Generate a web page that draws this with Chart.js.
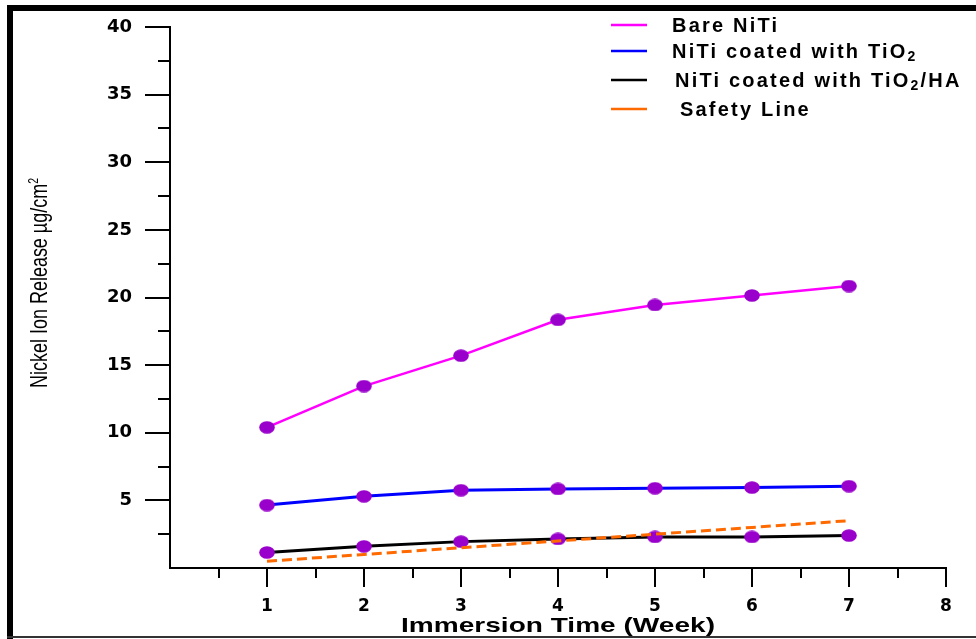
<!DOCTYPE html>
<html><head><meta charset="utf-8">
<script src="https://cdn.jsdelivr.net/npm/chart.js@4.4.0/dist/chart.umd.min.js"></script>
<style>html,body{margin:0;padding:0;background:#fff;}#wrap{width:976px;height:639px;}</style>
</head><body><div id="wrap"><canvas id="c" width="976" height="639"></canvas></div>
<script>
// ---- data ----
const weeks = [1, 2, 3, 4, 5, 6, 7];
const bareNiTi = [10.4, 13.45, 15.7, 18.35, 19.45, 20.15, 20.85];
const coatedTiO2 = [4.65, 5.3, 5.75, 5.85, 5.9, 5.95, 6.05];
const coatedTiO2HA = [1.15, 1.6, 1.95, 2.15, 2.3, 2.3, 2.4];
const safetyLine = [0.5, 1.0, 1.5, 2.0, 2.5, 3.0, 3.5];
const seriesLabels = ['Bare NiTi', 'NiTi coated with TiO₂', 'NiTi coated with TiO₂/HA', 'Safety Line'];
const seriesColors = ['#ff00ff', '#0000ff', '#000000', '#ff6a00'];
const yTickLabels = [5, 10, 15, 20, 25, 30, 35, 40];
const xTickLabels = [1, 2, 3, 4, 5, 6, 7, 8];
const xTitle = 'Immersion Time (Week)';
const yTitle = 'Nickel Ion Release µg/cm²';

// point marker: purple ellipse
const marker = document.createElement('canvas');
marker.width = 16; marker.height = 13;
(function(){const m = marker.getContext('2d'); m.fillStyle = '#9a00cc'; m.beginPath(); m.ellipse(8, 6.5, 7.8, 6.3, 0, 0, Math.PI*2); m.fill();})();

function pts(arr){ return weeks.map((w,i)=>({x:w, y:arr[i]})); }

function parts(text){
  const out=[]; let buf='';
  for (const ch of text){
    if (ch==='₂'||ch==='²'){ if(buf) out.push({t:buf,k:'n'}); buf=''; out.push({t:'2',k:ch==='₂'?'sub':'sup'}); }
    else buf+=ch;
  }
  if(buf) out.push({t:buf,k:'n'});
  return out;
}
function richWidth(ctx, text, font, smallFont){
  let w=0;
  for(const p of parts(text)){ ctx.font = p.k==='n'?font:smallFont; w+=ctx.measureText(p.t).width; }
  return w;
}
function drawRich(ctx, text, x, y, font, smallFont, subDy, supDy){
  let cx=x;
  for(const p of parts(text)){
    ctx.font = p.k==='n'?font:smallFont;
    const dy = p.k==='sub'?subDy:(p.k==='sup'?supDy:0);
    ctx.fillText(p.t, cx, y+dy);
    cx += ctx.measureText(p.t).width;
  }
}

const decor = {
  id:'decor',
  afterDraw(chart){
    const ctx = chart.ctx, xs = chart.scales.x, ys = chart.scales.y, ca = chart.chartArea;
    ctx.save();
    // ticks
    ctx.strokeStyle = '#000'; ctx.lineWidth = 2;
    ys.ticks.forEach(t=>{
      if (t.value <= 0) return;
      const py = Math.round(ys.getPixelForValue(t.value));
      const len = (t.value % 5 === 0) ? 25 : 12;
      ctx.beginPath(); ctx.moveTo(ca.left - len, py); ctx.lineTo(ca.left, py); ctx.stroke();
    });
    xs.ticks.forEach(t=>{
      if (t.value <= 0) return;
      const px = Math.round(xs.getPixelForValue(t.value));
      const len = (t.value % 1 === 0) ? 19 : 10;
      ctx.beginPath(); ctx.moveTo(px, ca.bottom); ctx.lineTo(px, ca.bottom + len); ctx.stroke();
    });
    // x title
    ctx.fillStyle = '#000'; ctx.textBaseline = 'alphabetic'; ctx.textAlign = 'left';
    ctx.save();
    const xf = 'bold 21px "Liberation Sans", Arial, sans-serif';
    ctx.font = xf;
    const xw = ctx.measureText(xTitle).width;
    ctx.translate((ca.left + ca.right)/2 - 0, 632);
    ctx.scale(314/xw, 1);
    ctx.fillText(xTitle, -xw/2, 0);
    ctx.restore();
    // y title
    ctx.save();
    const yf = '24px "Liberation Sans", Arial, sans-serif', ysf = '14px "Liberation Sans", Arial, sans-serif';
    const yw = richWidth(ctx, yTitle, yf, ysf);
    ctx.translate(47, 283);
    ctx.rotate(-Math.PI/2);
    ctx.scale(210/yw, 1);
    drawRich(ctx, yTitle, -yw/2, 0, yf, ysf, 0, -9);
    ctx.restore();
    // legend
    ctx.save();
    const lf = 'bold 20px "Liberation Sans", Arial, sans-serif', lsf = 'bold 14px "Liberation Sans", Arial, sans-serif';
    try { ctx.letterSpacing = '2.2px'; } catch(e) {}
    const rowY = [25, 51, 80, 109], textX = [672, 672, 675, 680];
    seriesLabels.forEach((lab, i)=>{
      ctx.strokeStyle = seriesColors[i]; ctx.lineWidth = 2.5; ctx.setLineDash([]);
      ctx.beginPath(); ctx.moveTo(611, rowY[i]); ctx.lineTo(647, rowY[i]); ctx.stroke();
      ctx.fillStyle = '#000'; ctx.textBaseline = 'middle';
      drawRich(ctx, lab, textX[i], rowY[i] + 1, lf, lsf, 5, -6);
    });
    ctx.restore();
    // frame
    ctx.fillStyle = '#000';
    ctx.fillRect(7, 5, 969, 6);
    ctx.fillRect(7, 5, 6, 634);
    ctx.fillStyle = '#333';
    ctx.fillRect(7, 636, 969, 2);
    ctx.restore();
  }
};

const tickFontY = {family:'"DejaVu Sans", sans-serif', size:18, weight:'bold'};
const tickFontX = {family:'"DejaVu Sans", sans-serif', size:17, weight:'bold'};

new Chart(document.getElementById('c'), {
  type:'line',
  data:{
    datasets:[
      {label:seriesLabels[0], data:pts(bareNiTi), borderColor:seriesColors[0], borderWidth:2.5, pointStyle:marker, pointRadius:7, order:2},
      {label:seriesLabels[1], data:pts(coatedTiO2), borderColor:seriesColors[1], borderWidth:3, pointStyle:marker, pointRadius:7, order:3},
      {label:seriesLabels[2], data:pts(coatedTiO2HA), borderColor:seriesColors[2], borderWidth:3, pointStyle:marker, pointRadius:7, order:4},
      {label:seriesLabels[3], data:pts(safetyLine), borderColor:seriesColors[3], borderWidth:3, borderDash:[10,5], pointRadius:0, order:1}
    ]
  },
  options:{
    responsive:false, animation:false, devicePixelRatio:1,
    layout:{padding:{left:0, right:30, top:27, bottom:0}},
    elements:{line:{tension:0, fill:false}},
    plugins:{legend:{display:false}, tooltip:{enabled:false}},
    scales:{
      x:{type:'linear', min:0, max:8,
        afterFit(s){ s.height = 71; },
        ticks:{stepSize:0.5, autoSkip:false, maxRotation:0, padding:9, color:'#000', font:tickFontX,
          callback(v){ return xTickLabels.includes(v) ? String(v) : ''; }},
        grid:{display:true, drawOnChartArea:false, drawTicks:true, tickLength:19, tickColor:'rgba(0,0,0,0)'},
        border:{display:true, color:'#000', width:2}
      },
      y:{type:'linear', min:0, max:40,
        afterFit(s){ s.width = 170; },
        ticks:{stepSize:2.5, autoSkip:false, padding:13, color:'#000', font:tickFontY,
          callback(v){ return yTickLabels.includes(v) ? String(v) : ''; }},
        grid:{display:true, drawOnChartArea:false, drawTicks:true, tickLength:25, tickColor:'rgba(0,0,0,0)'},
        border:{display:true, color:'#000', width:2}
      }
    }
  },
  plugins:[decor]
});
</script></body></html>
